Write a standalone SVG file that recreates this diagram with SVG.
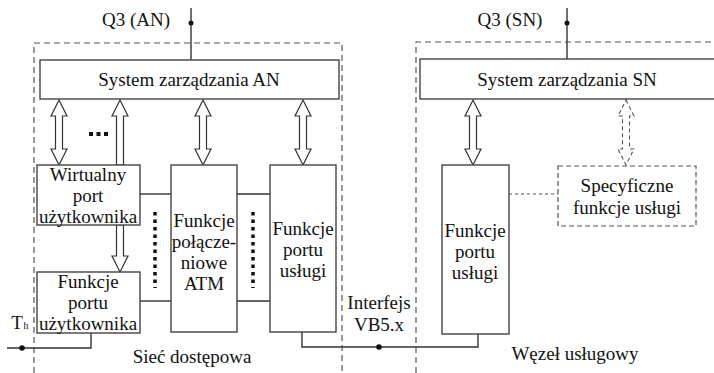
<svg xmlns="http://www.w3.org/2000/svg" width="714" height="373" viewBox="0 0 714 373">
<style>
text{font-family:'Liberation Serif','Times New Roman',serif;font-size:19px;fill:#111;text-anchor:middle}
.box{fill:#fff;stroke:#444;stroke-width:1.4}
.dbox{fill:none;stroke:#555;stroke-width:1.2;stroke-dasharray:6 4}
.ln{fill:none;stroke:#333;stroke-width:1.4}
.arr{fill:#fff;stroke:#333;stroke-width:1.2}
.darr{fill:#fff;stroke:#555;stroke-width:1.1;stroke-dasharray:4 3}
.dots{fill:none;stroke:#111;stroke-width:3.5;stroke-dasharray:3.5 4}
</style>
<defs>
<path id="dbl" d="M0,0 L8,16 L3.5,16 L3.5,49 L8,49 L0,65 L-8,49 L-3.5,49 L-3.5,16 L-8,16 Z"/>
<path id="up" d="M0,0 L8,16 L3.5,16 L3.5,65 L-3.5,65 L-3.5,16 L-8,16 Z"/>
<path id="down" d="M-3.5,0 L3.5,0 L3.5,31 L8,31 L0,47 L-8,31 L-3.5,31 Z"/>
</defs>
<g id="regions">
<path class="dbox" d="M34,373 L34,43 L342,43 L342,373"/>
<path class="dbox" d="M416,373 L416,42 L714,42"/>
<text x="192" y="363">Sieć dostępowa</text>
<text x="575" y="360">Węzeł usługowy</text>
</g>
<g id="connectors">
<line class="ln" x1="191" y1="8" x2="191" y2="60"/>
<circle cx="191" cy="23" r="2.5" fill="#111"/>
<line class="ln" x1="567" y1="8" x2="567" y2="59"/>
<circle cx="567" cy="23" r="2.5" fill="#111"/>
<use href="#dbl" class="arr" x="59" y="100"/>
<use href="#up" class="arr" x="120" y="100"/>
<use href="#dbl" class="arr" x="203" y="100"/>
<use href="#dbl" class="arr" x="303" y="100"/>
<use href="#dbl" class="arr" x="473" y="100"/>
<use href="#dbl" class="darr" x="626" y="100"/>
<use href="#down" class="arr" x="120" y="225"/>
<line class="ln" x1="140" y1="194" x2="171" y2="194"/>
<line class="ln" x1="140" y1="301" x2="171" y2="301"/>
<line class="ln" x1="237" y1="194" x2="270" y2="194"/>
<line class="ln" x1="237" y1="301" x2="270" y2="301"/>
<line class="dots" x1="155" y1="212" x2="155" y2="288"/>
<line class="dots" x1="253" y1="212" x2="253" y2="288"/>
<line x1="509" y1="194" x2="558" y2="194" stroke="#555" stroke-width="1.2" stroke-dasharray="3 3"/>
<path class="ln" d="M7,348 L91,348 L91,333"/>
<circle cx="22" cy="348" r="2.8" fill="#111"/>
<path class="ln" d="M302,332 L302,347 L478,347 L478,334"/>
<circle cx="379" cy="347" r="2.8" fill="#111"/>
<g fill="#111"><rect x="89" y="132" width="4" height="4"/><rect x="96.5" y="132" width="4" height="4"/><rect x="104" y="132" width="4" height="4"/></g>
</g>
<g id="labels">
<text x="136" y="26">Q3 (AN)</text>
<text x="510" y="26">Q3 (SN)</text>
<text x="379" y="309">Interfejs</text>
<text x="379" y="331">VB5.x</text>
<text x="17" y="329">T</text>
<text x="26" y="329" style="font-size:10px">h</text>
</g>
<g id="sys-an">
<rect class="box" x="40" y="60" width="299" height="39"/>
<text x="189" y="86">System zarządzania AN</text>
</g>
<g id="sys-sn">
<rect class="box" x="420" y="59" width="300" height="40"/>
<text x="567" y="86">System zarządzania SN</text>
</g>
<g id="virt-port">
<rect class="box" x="37" y="165" width="103" height="60"/>
<text x="88" y="181">Wirtualny</text>
<text x="88" y="202">port</text>
<text x="88" y="223">użytkownika</text>
</g>
<g id="user-port">
<rect class="box" x="37" y="272" width="103" height="61"/>
<text x="88" y="288">Funkcje</text>
<text x="88" y="309">portu</text>
<text x="88" y="330">użytkownika</text>
</g>
<g id="atm">
<rect class="box" x="171" y="165" width="66" height="167"/>
<text x="204" y="227">Funkcje</text>
<text x="204" y="248">połącze-</text>
<text x="204" y="269">niowe</text>
<text x="204" y="290">ATM</text>
</g>
<g id="an-service-port">
<rect class="box" x="270" y="165" width="66" height="167"/>
<text x="303" y="235">Funkcje</text>
<text x="303" y="256">portu</text>
<text x="303" y="277">usługi</text>
</g>
<g id="sn-service-port">
<rect class="box" x="442" y="165" width="67" height="169"/>
<text x="475" y="237">Funkcje</text>
<text x="475" y="258">portu</text>
<text x="475" y="279">usługi</text>
</g>
<g id="specific">
<rect x="558" y="166" width="138" height="60" fill="#fff" stroke="#555" stroke-width="1.2" stroke-dasharray="5 3"/>
<text x="627" y="192">Specyficzne</text>
<text x="627" y="214">funkcje usługi</text>
</g>
</svg>
